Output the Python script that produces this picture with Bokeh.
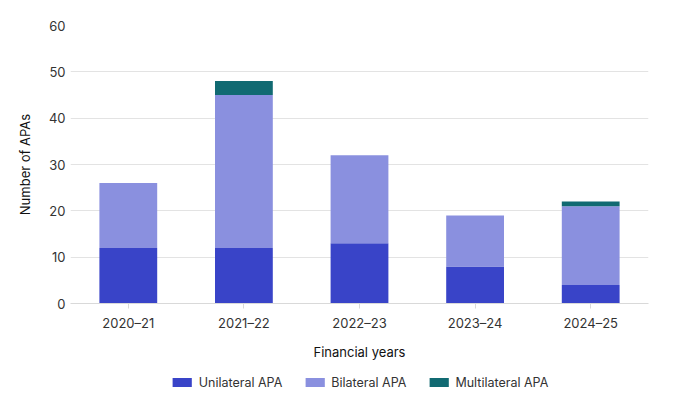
from bokeh.plotting import figure
from bokeh.models import Legend, LegendItem, Range1d, ColumnDataSource
from bokeh.layouts import column
from bokeh.embed import file_html
from bokeh.resources import INLINE

years = ["2020–21", "2021–22", "2022–23", "2023–24", "2024–25"]
unilateral = [12, 12, 13, 8, 4]
bilateral = [14, 33, 19, 11, 17]
multilateral = [0, 3, 0, 0, 1]
series = ["Unilateral APA", "Bilateral APA", "Multilateral APA"]
colors = ["#3944C8", "#8A90DF", "#116A72"]
y_ticks = [0, 10, 20, 30, 40, 50, 60]

FONT = "Inter"
TXT = "#333333"

src = ColumnDataSource(dict(x=years, u=unilateral, b=bilateral, m=multilateral))

p = figure(x_range=years, y_range=Range1d(0, 60), width=664, height=367,
           output_backend="svg", toolbar_location=None,
           min_border_left=70, min_border_right=16, min_border_top=25, min_border_bottom=64)

rs = p.vbar_stack(["u", "b", "m"], x="x", source=src, width=0.5,
                  color=colors, line_color=None)

p.outline_line_color = None
p.xgrid.grid_line_color = None
p.ygrid.grid_line_color = "#e3e3e3"
p.ygrid.grid_line_width = 1
p.yaxis.ticker = y_ticks
p.yaxis.axis_line_color = None
p.yaxis.major_tick_line_color = None
p.yaxis.minor_tick_line_color = None
p.yaxis.major_tick_out = 0
p.yaxis.major_tick_in = 0
p.yaxis.minor_tick_out = 0
p.yaxis.major_label_standoff = 5
p.yaxis.axis_label = "Number of APAs"
p.yaxis.axis_label_standoff = 13

p.xaxis.axis_line_color = "#d9d9d9"
p.xaxis.major_tick_line_color = "#d9d9d9"
p.xaxis.major_tick_in = 0
p.xaxis.major_tick_out = 5
p.xaxis.major_label_standoff = 6
p.xaxis.axis_label = "Financial years"
p.xaxis.axis_label_standoff = 10

for ax in (p.xaxis[0], p.yaxis[0]):
    ax.major_label_text_font = FONT
    ax.major_label_text_font_size = "13px"
    ax.major_label_text_color = TXT
    ax.axis_label_text_font = FONT
    ax.axis_label_text_font_size = "13px"
    ax.axis_label_text_font_style = "normal"
    ax.axis_label_text_color = "#111111"

# legend strip below the chart (proxy renderers sit outside the visible range)
lg = figure(x_range=Range1d(0, 1), y_range=Range1d(0, 1), width=664, height=30,
            output_backend="svg", toolbar_location=None,
            min_border_left=70, min_border_right=16, min_border_top=0, min_border_bottom=0)
lg.axis.visible = False
lg.grid.visible = False
lg.outline_line_color = None
proxies = [lg.rect(x=[-5], y=[-5], width=1, height=1, fill_color=c, line_color=None)
           for c in colors]

items = [LegendItem(label=s, renderers=[r]) for s, r in zip(series, proxies)]
legend = Legend(items=items, orientation="horizontal", location="center",
                label_text_font=FONT, label_text_font_size="12.5px", label_text_color=TXT,
                glyph_width=24, glyph_height=11, label_height=12, spacing=20, label_standoff=5,
                border_line_color=None, background_fill_alpha=0, padding=0, margin=0)
lg.add_layout(legend, "center")

open("out.html", "w").write(file_html(column(p, lg), INLINE))
